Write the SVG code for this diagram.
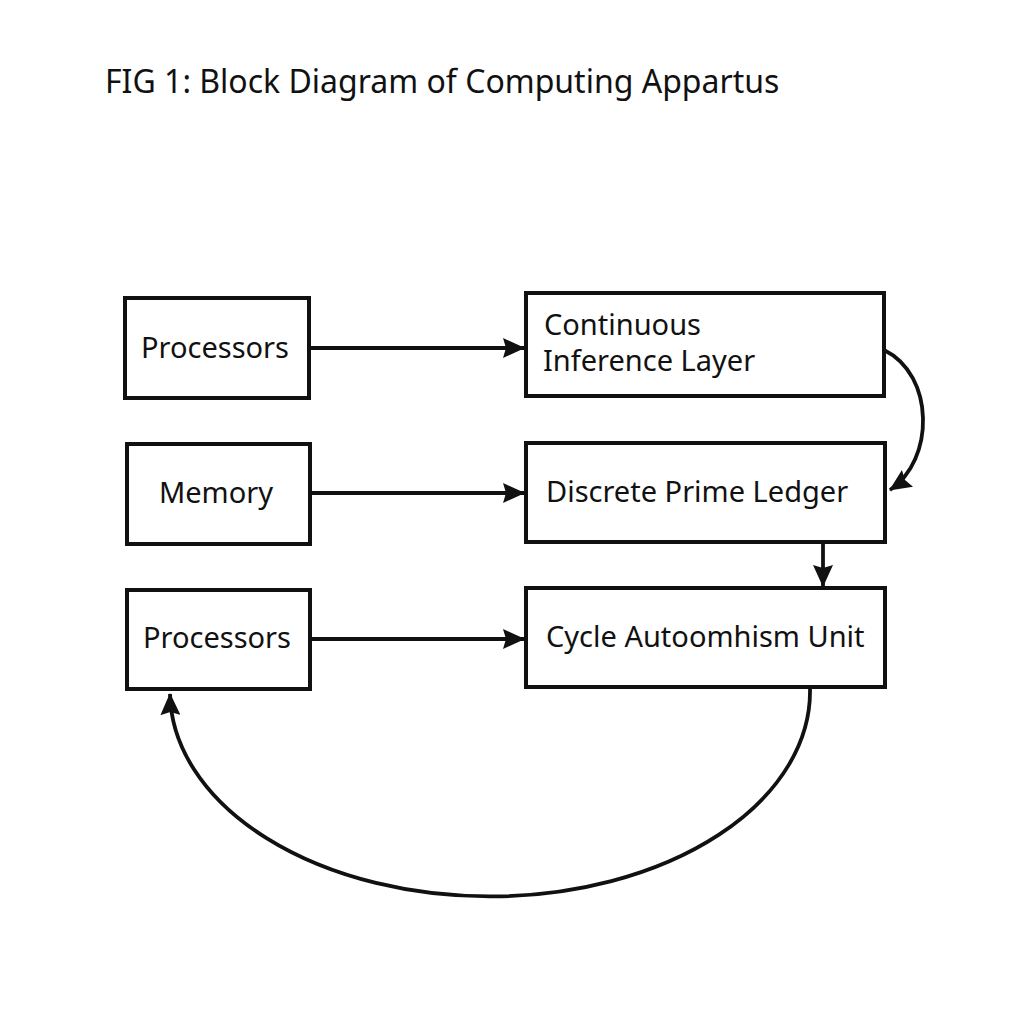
<svg xmlns="http://www.w3.org/2000/svg" width="1024" height="1024" viewBox="0 0 1024 1024">
<style>
.box{fill:#fff;stroke:#111;stroke-width:4}
.lbl{font-family:"Noto Sans","Liberation Sans",sans-serif;font-size:29px;fill:#111}
.title{font-family:"Noto Sans","Liberation Sans",sans-serif;font-size:32px;fill:#111}
.conn{fill:none;stroke:#111;stroke-width:3.8}
</style>
<defs>
<marker id="ah" viewBox="0 0 22 20" refX="21" refY="10" markerWidth="22" markerHeight="20" orient="auto" markerUnits="userSpaceOnUse">
<path d="M0,0 L22,10 L0,20 L3,10 z" fill="#111"/>
</marker>
</defs>
<rect width="1024" height="1024" fill="#fff"/>
<text class="title" x="105" y="93">FIG 1: Block Diagram of Computing Appartus</text>
<g id="n-processors1"><rect class="box" x="125" y="298" width="184" height="100"/><text class="lbl" x="215" y="358" text-anchor="middle">Processors</text></g>
<g id="n-cil"><rect class="box" x="526" y="293" width="358" height="103"/><text class="lbl" x="544" y="335">Continuous</text><text class="lbl" x="543" y="371">Inference Layer</text></g>
<g id="n-memory"><rect class="box" x="127" y="444" width="183" height="100"/><text class="lbl" x="216" y="503" text-anchor="middle">Memory</text></g>
<g id="n-dpl"><rect class="box" x="526" y="443" width="359" height="99"/><text class="lbl" x="546" y="502">Discrete Prime Ledger</text></g>
<g id="n-processors2"><rect class="box" x="127" y="590" width="183" height="99"/><text class="lbl" x="217" y="648" text-anchor="middle">Processors</text></g>
<g id="n-cau"><rect class="box" x="526" y="588" width="359" height="99"/><text class="lbl" x="546" y="647">Cycle Autoomhism Unit</text></g>
<g id="connectors">
<path class="conn" d="M311 348 H524" marker-end="url(#ah)"/>
<path class="conn" d="M312 493 H524" marker-end="url(#ah)"/>
<path class="conn" d="M312 639 H524" marker-end="url(#ah)"/>
<path class="conn" d="M884 350 C935 375 935 460 890 490" marker-end="url(#ah)"/>
<path class="conn" d="M823 543 V586" marker-end="url(#ah)"/>
<path class="conn" d="M810 689 A320 205 0 0 1 170 694" marker-end="url(#ah)"/>
</g>
</svg>
